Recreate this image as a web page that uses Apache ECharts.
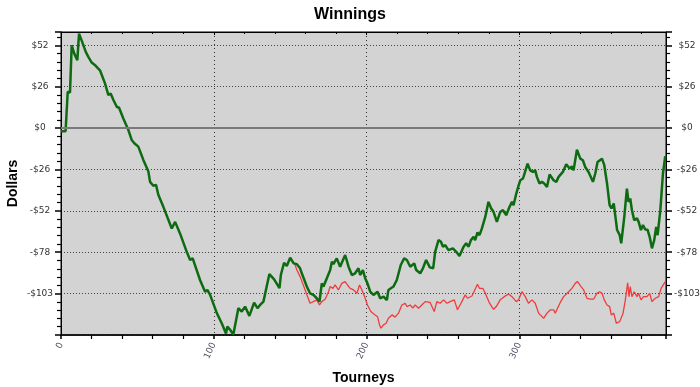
<!DOCTYPE html>
<html>
<head>
<meta charset="utf-8">
<script src="https://cdn.jsdelivr.net/npm/echarts@6/dist/echarts.min.js"></script>
<style>html,body{margin:0;padding:0;background:#fff;}#c{width:700px;height:387px;}</style>
</head>
<body>
<div id="c"></div>
<script>
// Tourney index and cumulative winnings (dollars) for the green line
const greenT = [0,3,4.4,4.8,5.9,7,8.7,10.7,11.8,13.5,16.2,17.9,20.1,21.4,22.7,24,25.5,28.8,31,32.5,34.3,36.5,38,40.8,44.1,46.3,48,49.1,50.6,53.9,57.2,58.3,60.4,62.2,63.7,67,72.5,74.7,77.9,82.3,84.5,86.2,91,94.3,95.8,97.6,102,105.2,108,108.9,110.7,112.8,116.1,118.3,120.5,123.3,126.4,128.6,130.3,132.5,133.6,136.4,139.5,143,143.9,146,147.8,150,152.3,154.4,156.5,157.6,160.9,163,165.2,167.4,169.2,170.7,171.8,174,176.2,177.3,178.3,180.5,182.7,186,188.2,190.4,192.5,194.7,195.8,197.6,199.1,200.6,202.4,204.5,207.2,208.9,211.1,213.3,214.3,217.6,219.8,220.9,222.4,224.6,226.4,228.6,231.2,232.5,235.1,236.9,239,241.4,243.6,244.9,247.1,248.7,250,251.5,253.6,256.5,258.7,260.8,263.5,265.2,266.8,268.3,270.1,271.1,272.6,273.9,275.5,277.7,279.8,281.6,283.1,285.3,287.5,289.3,291.4,293.6,295.2,296.2,298,299.5,300.6,302.4,303.4,305.4,307.1,308.9,310.4,311.5,313.2,314.8,316.3,318.1,319.8,322.4,324.2,325.7,328.5,330.7,332.9,334.4,335.5,337.7,339.9,341.6,343.1,345.3,346.4,348.2,349.7,351.2,354.1,355.6,357.4,359.1,360.3,361.8,362.9,364,365.7,366.7,368.7,370.4,371.5,372.6,373.7,375.2,377,378.1,379.6,380.9,382.4,383.9,385.3,386.8,388.3,389.6,390.5,392.3,394,395.5];
const greenV = [-2,-2,22.7,23.7,22.2,51.7,46.5,42.4,59,54.8,47.6,44.5,40.9,41.7,38.9,39.3,36.1,27.9,20.6,21.6,17.5,13.3,12.7,6,-1.2,-7.5,-9.5,-8.9,-11.6,-19.9,-27.2,-33.6,-36,-35.5,-41.7,-49.2,-62.7,-58.6,-65.8,-77.3,-82.4,-81.4,-94.9,-102.2,-101.1,-104.2,-115.6,-121.9,-128.3,-124,-126,-129,-112.5,-114.6,-111.5,-117.3,-109,-112.5,-110.5,-108.4,-109.4,-91.2,-94.5,-100,-91.8,-84.1,-86.2,-81,-84.5,-85,-87.6,-90.7,-99,-103.2,-104.2,-106.3,-108.4,-97,-99,-93.8,-88.7,-83.5,-84.9,-81.4,-86.6,-79.3,-86.6,-91.8,-90.7,-87.6,-91.8,-88.7,-93.8,-97,-102.2,-104.2,-102.2,-106.3,-105.3,-107.5,-101.1,-99,-94.9,-93.8,-85.5,-81.4,-82.4,-86.6,-84.5,-88.7,-90.7,-87.6,-82.4,-87,-87.6,-77.3,-70,-71,-74.1,-73.1,-76.2,-75.1,-77.3,-79.9,-74.1,-72,-74.1,-70,-67.9,-70,-65.2,-66.9,-62.7,-55.5,-46.1,-50.2,-52.3,-58.6,-52.3,-51.3,-54.4,-49.2,-46.1,-48.2,-40.9,-35.9,-32.6,-31.5,-28.4,-22.2,-26.4,-27.4,-26.4,-30.5,-34.6,-33.6,-34.6,-36.8,-29,-32.6,-33.6,-30.5,-27.4,-22.6,-25.3,-23.9,-26.4,-13.5,-19.1,-20.1,-24.3,-27.4,-28.4,-33.6,-28.4,-21.2,-19.1,-23.2,-34.6,-48.2,-50.2,-47.1,-55.5,-63.7,-66.9,-72,-55.5,-37.8,-46.1,-44,-51.3,-57.5,-56.4,-58.6,-63.7,-60.6,-63.3,-63.5,-67.9,-75.1,-70,-61.7,-66.9,-51.3,-28.4,-17.6];

// Red line
const redT = [153,154.4,156.5,159.8,163,165.2,167.4,169.2,170.7,172.9,175.1,176.2,178,179.4,181.6,183.8,186,187.5,189.3,191.5,193.7,195.4,197,199.1,200.6,202.8,205.6,207.2,208.5,209.4,211.1,212.8,214.3,216.6,218.7,220.9,223.1,225.3,226.4,228.6,230.3,231.8,234,236.2,238.4,239.5,241.6,244.3,246,248.2,250.4,252.6,254.7,257.4,259.5,261.8,264.6,266.1,269,272.6,273.9,276.1,277.7,280.5,283.1,284.9,287.5,290.1,293,295.2,298,299.5,301.7,303.9,306,308.3,310.4,312.6,315.9,318.1,320.2,322.4,323.5,325,326.8,329,332.3,334.4,336.6,338.1,340.4,342.1,344.3,346.4,348.6,350.8,352.5,354.1,355.6,357.4,359.1,360.2,361.8,363.5,365.7,367.9,369.4,370.9,371.8,372.6,373.7,375.2,377,378.1,379.6,381.3,383.5,385.3,386.8,389,391.2,392.8,395.5];
const redV = [-85,-88.7,-92.8,-101.1,-109.4,-108.4,-107.3,-110.5,-108.4,-106.9,-102.2,-99,-100.1,-98,-101.1,-97,-95.9,-98,-100.1,-101.1,-103.2,-98,-101.1,-106.3,-110.5,-114.6,-116.7,-117.8,-122.9,-125,-122.9,-121.9,-118.8,-116.7,-118.1,-115.6,-110.5,-109.4,-111.5,-110.5,-112.5,-110.5,-112.5,-110.5,-108.4,-109.4,-108.9,-114.6,-108.4,-109.4,-107.3,-109.4,-108.4,-107.3,-113.5,-109.4,-104.2,-106.3,-104.9,-97.6,-100.1,-100.1,-103.2,-109.4,-113.2,-111.5,-107.3,-105.3,-103.6,-105.3,-108.4,-107.3,-102.2,-105.3,-109.4,-107.3,-109.4,-115.6,-118.8,-115.6,-113.6,-113.5,-115.6,-112.5,-108.9,-105.3,-102.2,-100.1,-97,-95.9,-99,-101.1,-106.3,-106.9,-106.9,-103.2,-102.2,-103.2,-107.3,-110.5,-111.5,-116.7,-115.6,-121.9,-120.9,-115.6,-107.3,-96.6,-105.3,-99,-105.3,-102.2,-105.3,-103.2,-107.3,-105.3,-105.3,-103.2,-108.4,-106.3,-105.3,-100.1,-95.9];

const xMin = 0, xMax = 396, xStep = 100;
const yStep = 25.85, yMin = -5 * 25.85, yMax = 60;

const pairs = (t, v) => t.map((x, i) => [x, v[i]]);

function yLabel(v) {
  const k = v / yStep;
  if (Math.abs(k - Math.round(k)) > 0.01) return '';
  const r = Math.round(v);
  if (r === -129) return '';
  return (r < 0 ? '-$' : '$') + Math.abs(r);
}
function xLabel(v) {
  return (Math.abs(v % xStep) < 1e-6) ? String(v) : '';
}

const chart = echarts.init(document.getElementById('c'), null, {renderer: 'canvas'});
const commonY = {
  type: 'value', min: yMin, max: yMax, interval: yStep,
  axisLine: {show: true, onZero: false, lineStyle: {color: '#000', width: 1}},
  axisTick: {show: true, length: 6, lineStyle: {color: '#000', width: 1.5}},
  minorTick: {show: true, splitNumber: 5, length: 4, lineStyle: {color: '#000', width: 1.2}},
};
chart.setOption({
  animation: false,
  backgroundColor: '#fff',
  title: {
    text: 'Winnings', left: 'center', top: 2,
    textStyle: {fontFamily: 'Liberation Sans, Arial', fontWeight: 'bold', fontSize: 16, color: '#000'}
  },
  grid: {left: 61, right: 34, top: 32, bottom: 52, containLabel: false, outerBoundsMode: 'none',
         show: true, backgroundColor: '#d3d3d3', borderColor: '#000', borderWidth: 1},
  xAxis: [{
    type: 'value', min: xMin, max: xMax, interval: xStep, position: 'bottom',
    name: 'Tourneys', nameLocation: 'middle', nameGap: 36, nameMoveOverlap: false,
    nameTextStyle: {fontFamily: 'Liberation Sans, Arial', fontWeight: 'bold', fontSize: 14, color: '#000'},
    axisLine: {show: true, onZero: false, lineStyle: {color: '#000', width: 1.5}},
    axisTick: {show: true, length: 4, lineStyle: {color: '#000', width: 1.5}},
    minorTick: {show: true, splitNumber: 5, length: 4, lineStyle: {color: '#000', width: 1.2}},
    axisLabel: {formatter: xLabel, rotate: 65, margin: 8, fontSize: 9, color: '#556',
                fontFamily: 'DejaVu Sans', showMinLabel: true, showMaxLabel: false},
    splitLine: {show: true, lineStyle: {color: '#333', type: [1, 3], width: 1}}
  }, {
    type: 'value', min: xMin, max: xMax, interval: xStep, position: 'top',
    axisLine: {show: true, onZero: false, lineStyle: {color: '#000', width: 1}},
    axisTick: {show: true, inside: true, length: 3, lineStyle: {color: '#000'}},
    minorTick: {show: true, splitNumber: 5, length: 2, lineStyle: {color: '#000'}},
    axisLabel: {show: false}, splitLine: {show: false}
  }],
  yAxis: [Object.assign({}, commonY, {
    position: 'left',
    name: 'Dollars', nameLocation: 'middle', nameGap: 41, nameMoveOverlap: false,
    nameTextStyle: {fontFamily: 'Liberation Sans, Arial', fontWeight: 'bold', fontSize: 14, color: '#000'},
    axisLabel: {formatter: yLabel, align: 'center', margin: 21, fontSize: 9, color: '#333',
                fontFamily: 'DejaVu Sans', showMinLabel: false, showMaxLabel: false},
    splitLine: {show: true, lineStyle: {color: '#444', type: [1, 2], width: 1}}
  }), Object.assign({}, commonY, {
    position: 'right',
    axisLabel: {formatter: yLabel, align: 'center', margin: 21, fontSize: 9, color: '#333',
                fontFamily: 'DejaVu Sans', showMinLabel: false, showMaxLabel: false},
    splitLine: {show: false}
  })],
  series: [{
    type: 'line', xAxisIndex: 0, yAxisIndex: 0, data: pairs(redT, redV),
    showSymbol: false, symbol: 'none', lineStyle: {color: '#f03c3c', width: 1.3}, z: 3,
    markLine: {
      silent: true, symbol: ['none', 'none'], label: {show: false},
      lineStyle: {color: '#7a7a7a', type: 'solid', width: 2},
      data: [{yAxis: 0}]
    }
  }, {
    type: 'line', xAxisIndex: 0, yAxisIndex: 0, data: pairs(greenT, greenV),
    showSymbol: false, symbol: 'none', lineStyle: {color: '#0d6b12', width: 2.5}, z: 4
  }]
});
</script>
</body>
</html>
